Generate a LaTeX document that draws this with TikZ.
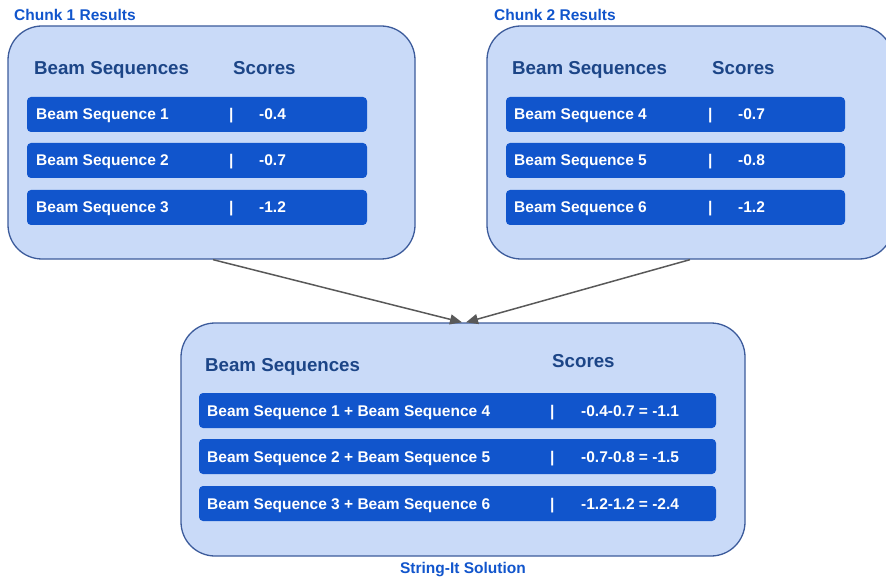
\documentclass[tikz,border=0pt]{standalone}
\usepackage{fontspec}
\setmainfont{Liberation Sans}
\usetikzlibrary{arrows.meta}
\definecolor{boxfill}{HTML}{C9DAF8}
\definecolor{boxline}{HTML}{3C5B9B}
\definecolor{rowfill}{HTML}{1155CC}
\definecolor{hdr}{HTML}{1C4587}
\definecolor{ttl}{HTML}{1155CC}
\definecolor{arr}{HTML}{595959}
\begin{document}
\begin{tikzpicture}[x=1pt,y=-1pt,
 panel/.style={draw=boxline, fill=boxfill, line width=1.3pt, rounded corners=34pt, inner sep=0, minimum height=233pt},
 rowbox/.style={fill=rowfill, rounded corners=4pt, inner sep=0, minimum height=35pt},
 rowtxt/.style={anchor=base west, text=white, font=\bfseries\fontsize{15.5}{18}\selectfont, inner sep=0},
 hdrtxt/.style={anchor=base west, text=hdr, font=\bfseries\fontsize{18.7}{22}\selectfont, inner sep=0},
 ttltxt/.style={anchor=base west, text=ttl, font=\bfseries\fontsize{15.5}{18}\selectfont, inner sep=0},
 conn/.style={draw=arr, line width=1.5pt, -{Triangle[length=12pt,width=10pt]}}]
\useasboundingbox (0,0) rectangle (886,580);
\begin{scope}
\clip (0,0) rectangle (886,580);
% panels
\node[panel, minimum width=407pt] (p1) at (211.5,142.5) {};
\node[panel, minimum width=406pt] (p2) at (690,142.5) {};
\node[panel, minimum width=564pt] (p3) at (463,439.5) {};
\end{scope}
% titles
\node[ttltxt] (t1) at (14,21) {Chunk 1 Results};
\node[ttltxt] (t2) at (494,21) {Chunk 2 Results};
\node[ttltxt, anchor=base] (t3) at (463,573) {String-It Solution};
% headers
\node[hdrtxt] (h1a) at (34,75) {Beam Sequences};
\node[hdrtxt] (h1b) at (233,75) {Scores};
\node[hdrtxt] (h2a) at (512,75) {Beam Sequences};
\node[hdrtxt] (h2b) at (712,75) {Scores};
\node[hdrtxt] (h3a) at (205,371) {Beam Sequences};
\node[hdrtxt] (h3b) at (552,367) {Scores};
% rows chunk 1
\node[rowbox, minimum width=340pt] (r11) at (197,114.5) {};
\node[rowbox, minimum width=340pt] (r12) at (197,160.5) {};
\node[rowbox, minimum width=340pt] (r13) at (197,207.5) {};
\node[rowtxt] (s11) at (36,120) {Beam Sequence 1};
\node[rowtxt] (b11) at (229,120) {|};
\node[rowtxt] (v11) at (259,120) {-0.4};
\node[rowtxt] (s12) at (36,166) {Beam Sequence 2};
\node[rowtxt] (b12) at (229,166) {|};
\node[rowtxt] (v12) at (259,166) {-0.7};
\node[rowtxt] (s13) at (36,213) {Beam Sequence 3};
\node[rowtxt] (b13) at (229,213) {|};
\node[rowtxt] (v13) at (259,213) {-1.2};
% rows chunk 2
\node[rowbox, minimum width=339pt] (r21) at (675.5,114.5) {};
\node[rowbox, minimum width=339pt] (r22) at (675.5,160.5) {};
\node[rowbox, minimum width=339pt] (r23) at (675.5,207.5) {};
\node[rowtxt] (s21) at (514,120) {Beam Sequence 4};
\node[rowtxt] (b21) at (708,120) {|};
\node[rowtxt] (v21) at (738,120) {-0.7};
\node[rowtxt] (s22) at (514,166) {Beam Sequence 5};
\node[rowtxt] (b22) at (708,166) {|};
\node[rowtxt] (v22) at (738,166) {-0.8};
\node[rowtxt] (s23) at (514,213) {Beam Sequence 6};
\node[rowtxt] (b23) at (708,213) {|};
\node[rowtxt] (v23) at (738,213) {-1.2};
% rows solution
\node[rowbox, minimum width=517pt] (r31) at (457.5,410.5) {};
\node[rowbox, minimum width=517pt] (r32) at (457.5,456.5) {};
\node[rowbox, minimum width=517pt] (r33) at (457.5,503.5) {};
\node[rowtxt] (s31) at (207,416) {Beam Sequence 1 + Beam Sequence 4};
\node[rowtxt] (b31) at (550,416) {|};
\node[rowtxt] (v31) at (581,416) {-0.4-0.7 = -1.1};
\node[rowtxt] (s32) at (207,462) {Beam Sequence 2 + Beam Sequence 5};
\node[rowtxt] (b32) at (550,462) {|};
\node[rowtxt] (v32) at (581,462) {-0.7-0.8 = -1.5};
\node[rowtxt] (s33) at (207,509) {Beam Sequence 3 + Beam Sequence 6};
\node[rowtxt] (b33) at (550,509) {|};
\node[rowtxt] (v33) at (581,509) {-1.2-1.2 = -2.4};
% connectors
\coordinate (e1) at ([xshift=-1pt]p3.north);
\coordinate (e2) at ([xshift=3pt]p3.north);
\draw[conn] ([xshift=1.5pt]p1.south) -- (e1);
\draw[conn] (p2.south) -- (e2);
\end{tikzpicture}
\end{document}
